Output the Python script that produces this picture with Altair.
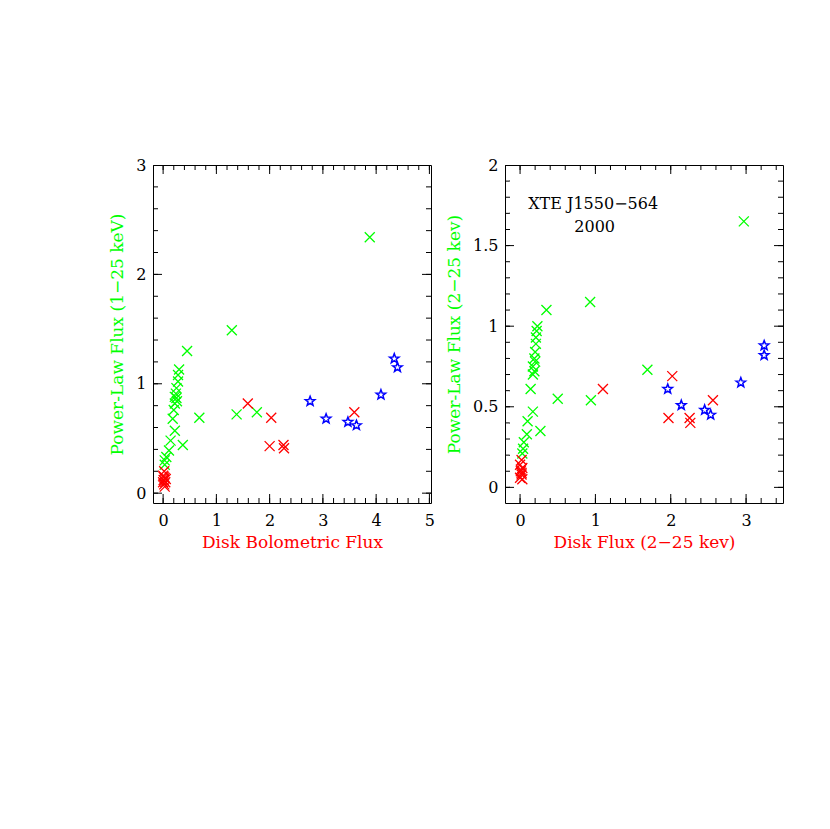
import math
import altair as alt
import pandas as pd

# ---------------- data ----------------
L_green_x = [0.45, 0.30, 0.28, 0.28, 0.25, 0.24, 0.22, 0.25, 0.22, 0.20, 0.18, 0.22,
             0.68, 0.37, 0.14, 0.11, 0.06, 0.03, 0.03, 1.29, 3.88, 1.38, 1.76, 0.26]
L_green_y = [1.30, 1.13, 1.08, 1.02, 0.96, 0.91, 0.88, 0.87, 0.82, 0.76, 0.68, 0.57,
             0.69, 0.44, 0.48, 0.39, 0.33, 0.30, 0.26, 1.49, 2.34, 0.72, 0.74, 0.84]
L_red_x = [1.59, 2.03, 2.00, 2.26, 2.27, 3.59,
           0.02, 0.00, 0.03, 0.01, 0.04, 0.02, 0.00, 0.05, 0.03, 0.01]
L_red_y = [0.82, 0.69, 0.43, 0.44, 0.41, 0.74,
           0.20, 0.16, 0.14, 0.12, 0.10, 0.08, 0.10, 0.13, 0.06, 0.15]
L_blue_x = [2.76, 3.06, 3.47, 3.63, 4.09, 4.34, 4.40]
L_blue_y = [0.84, 0.68, 0.65, 0.62, 0.90, 1.23, 1.15]

R_green_x = [2.97, 0.93, 0.35, 1.69, 0.50, 0.94, 0.27, 0.23, 0.22, 0.21, 0.21, 0.20,
             0.19, 0.20, 0.17, 0.19, 0.17, 0.14, 0.17, 0.10, 0.09, 0.05, 0.04, 0.03]
R_green_y = [1.65, 1.15, 1.10, 0.73, 0.55, 0.54, 0.35, 1.00, 0.97, 0.93, 0.89, 0.84,
             0.80, 0.78, 0.75, 0.72, 0.70, 0.61, 0.47, 0.41, 0.33, 0.28, 0.24, 0.21]
R_red_x = [1.10, 2.02, 1.97, 2.25, 2.26, 2.56,
           0.02, 0.00, 0.03, 0.01, 0.02, 0.00, 0.03, 0.01, 0.02]
R_red_y = [0.61, 0.69, 0.43, 0.43, 0.40, 0.54,
           0.17, 0.14, 0.12, 0.10, 0.08, 0.06, 0.05, 0.11, 0.09]
R_blue_x = [1.96, 2.14, 2.45, 2.53, 2.93, 3.24, 3.24]
R_blue_y = [0.61, 0.51, 0.48, 0.45, 0.65, 0.88, 0.82]

L_x_major = [0, 1, 2, 3, 4, 5]
L_x_minor = [round(i * 0.2, 1) for i in range(0, 26)]
L_y_major = [0, 1, 2, 3]
L_y_minor = [round(i * 0.2, 1) for i in range(0, 16)]
R_x_major = [0, 1, 2, 3]
R_x_minor = [round(i * 0.2, 1) for i in range(-1, 18)]
R_y_major = [0, 0.5, 1, 1.5, 2]
R_y_minor = [round(i * 0.1, 1) for i in range(0, 21)]

ann_text = ["XTE J1550\u2212564", "2000"]
ann_x = [0.97, 0.99]
ann_y = [1.76, 1.615]

GREEN = "#00ff00"
RED = "#ff0000"
BLUE = "#0000ff"
FONT = "DejaVu Serif"

# marker outlines (unit symbol paths)
CROSS = "M-1,-1L1,1M-1,1L1,-1"
_star = []
for k in range(10):
    r = 1.0 if k % 2 == 0 else 0.42
    a = -math.pi / 2 + k * math.pi / 5
    _star.append(f"{r * math.cos(a):.3f},{r * math.sin(a):.3f}")
STAR = "M" + "L".join(_star) + "Z"

W, H = 278, 338
MAJ, MIN = 9, 5


def pts(xs, ys, grp):
    return pd.DataFrame({"px": xs, "py": ys, "grp": grp})


def panel(gx, gy, rx, ry, bx, by, xdom, ydom, xmaj, xmin, ymaj, ymin,
          xtitle, ytitle, yext, ann=None):
    xs = alt.Scale(domain=xdom, nice=False, zero=False)
    ys = alt.Scale(domain=ydom, nice=False, zero=False)
    xaxis = alt.Axis(
        values=xmaj, ticks=False, domain=False, grid=False, format="~g",
        labelFont=FONT, labelFontSize=16, labelColor="black", labelPadding=9,
        title=xtitle, titleFont=FONT, titleFontSize=17, titleColor=RED,
        titleFontWeight="normal", titlePadding=6)
    yaxis = alt.Axis(
        values=ymaj, ticks=False, domain=False, grid=False, format="~g",
        labelFont=FONT, labelFontSize=16, labelColor="black", labelPadding=7,
        title=ytitle, titleFont=FONT, titleFontSize=17, titleColor=GREEN,
        titleFontWeight="normal", titlePadding=9, minExtent=yext)

    cross_df = pd.concat([pts(gx, gy, "g"), pts(rx, ry, "r")], ignore_index=True)
    star_df = pts(bx, by, "b")

    crosses = alt.Chart(cross_df).mark_point(
        shape=CROSS, size=100, filled=False, strokeWidth=1.3, opacity=1
    ).encode(
        x=alt.X("px:Q", scale=xs, axis=xaxis),
        y=alt.Y("py:Q", scale=ys, axis=yaxis),
        stroke=alt.Stroke("grp:N", scale=alt.Scale(domain=["g", "r"], range=[GREEN, RED]),
                          legend=None),
    )
    stars = alt.Chart(star_df).mark_point(
        shape=STAR, size=100, filled=False, strokeWidth=1.5, opacity=1, color=BLUE
    ).encode(
        x=alt.X("px:Q", scale=xs, axis=xaxis),
        y=alt.Y("py:Q", scale=ys, axis=yaxis),
    )

    def xticks(vals, length, edge):
        return alt.Chart(pd.DataFrame({"px": vals})).mark_tick(
            color="black", thickness=1, size=2 * length, clip=True, opacity=1
        ).encode(x=alt.X("px:Q", scale=xs, axis=xaxis), y=alt.value(edge))

    def yticks(vals, length, edge):
        return alt.Chart(pd.DataFrame({"py": vals})).mark_tick(
            color="black", thickness=1, size=2 * length, clip=True, opacity=1
        ).encode(y=alt.Y("py:Q", scale=ys, axis=yaxis), x=alt.value(edge))

    ticks = [
        xticks(xmaj, MAJ, H), xticks(xmin, MIN, H),
        xticks(xmaj, MAJ, 0), xticks(xmin, MIN, 0),
        yticks(ymaj, MAJ, 0), yticks(ymin, MIN, 0),
        yticks(ymaj, MAJ, W), yticks(ymin, MIN, W),
    ]
    layers = [crosses, stars] + ticks
    if ann is not None:
        adf = pd.DataFrame({"t": ann[0], "px": ann[1], "py": ann[2]})
        txt = alt.Chart(adf).mark_text(font=FONT, fontSize=16, color="black",
                                       align="center", baseline="middle").encode(
            x=alt.X("px:Q", scale=xs, axis=xaxis),
            y=alt.Y("py:Q", scale=ys, axis=yaxis),
            text="t:N",
        )
        layers.append(txt)
    return alt.layer(*layers).properties(width=W, height=H)


left = panel(L_green_x, L_green_y, L_red_x, L_red_y, L_blue_x, L_blue_y,
             [-0.19, 5.03], [-0.09, 3.0], L_x_major, L_x_minor, L_y_major, L_y_minor,
             "Disk Bolometric Flux", "Power-Law Flux (1\u221225 keV)", 18)
right = panel(R_green_x, R_green_y, R_red_x, R_red_y, R_blue_x, R_blue_y,
              [-0.2, 3.49], [-0.097, 2.0], R_x_major, R_x_minor, R_y_major, R_y_minor,
              "Disk Flux (2\u221225 kev)", "Power-Law Flux (2\u221225 kev)", 33,
              ann=(ann_text, ann_x, ann_y))

chart = alt.hconcat(left, right, spacing=9).resolve_scale(
    x="independent", y="independent", stroke="independent"
).properties(
    padding={"left": 99, "top": 148, "right": 5, "bottom": 5},
).configure_view(stroke="black", strokeWidth=1)

chart.save("out.html", embed_options={"renderer": "svg", "actions": False})
